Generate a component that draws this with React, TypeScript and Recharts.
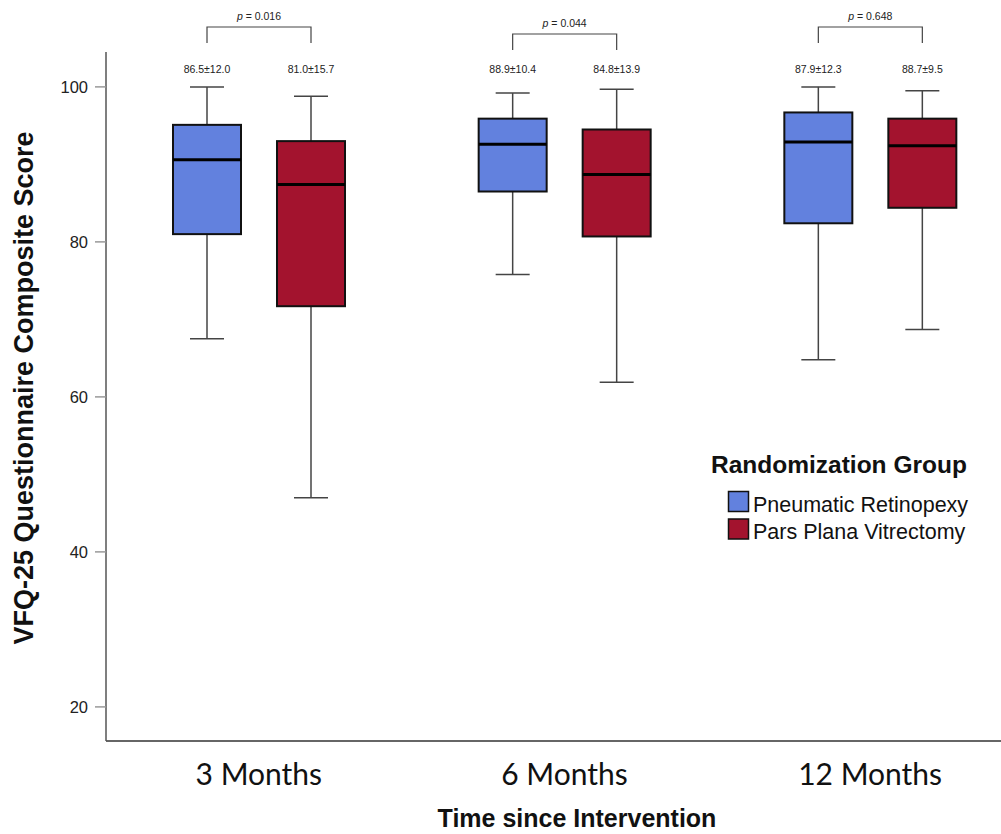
import React from "react";
import { ComposedChart, Bar, XAxis, YAxis } from "recharts";

// data
const categories = ["3 Months", "6 Months", "12 Months"];

const prMin = [67.5, 75.8, 64.8];
const prQ1 = [81.0, 86.5, 82.4];
const prMedian = [90.6, 92.6, 92.9];
const prQ3 = [95.1, 95.9, 96.7];
const prMax = [100.0, 99.2, 100.0];

const ppvMin = [47.0, 61.9, 68.7];
const ppvQ1 = [71.7, 80.7, 84.4];
const ppvMedian = [87.4, 88.7, 92.4];
const ppvQ3 = [93.0, 94.5, 95.9];
const ppvMax = [98.8, 99.7, 99.5];

const prMeanSd = ["86.5±12.0", "88.9±10.4", "87.9±12.3"];
const ppvMeanSd = ["81.0±15.7", "84.8±13.9", "88.7±9.5"];
const pValues = ["0.016", "0.044", "0.648"];

const yTicks = [20, 40, 60, 80, 100];

const data = categories.map((time, i) => ({
  time,
  pr: [prMin[i], prMax[i]],
  ppv: [ppvMin[i], ppvMax[i]],
}));

const stats: any = {
  pr: { min: prMin, q1: prQ1, med: prMedian, q3: prQ3, max: prMax, label: prMeanSd },
  ppv: { min: ppvMin, q1: ppvQ1, med: ppvMedian, q3: ppvQ3, max: ppvMax, label: ppvMeanSd },
};

const colors = { pr: "#6281DE", ppv: "#A3132E" };
const BAR_SIZE = 68;
const BAR_GAP = 36;
const LABEL_Y = 73; // baseline of mean±sd labels
const BRACKET_Y = [27, 34, 27];
const FONT = "'Liberation Sans', Arial, sans-serif";

const makeBoxShape = (group: "pr" | "ppv") => (props: any) => {
  const { x, y, width, height } = props;
  const i = props.payload ? categories.indexOf(props.payload.time) : props.index;
  const s = stats[group];
  const lo = s.min[i];
  const hi = s.max[i];
  const top = Math.min(y, y + height);
  const k = Math.abs(height) / (hi - lo);
  const py = (v: number) => top + (hi - v) * k;
  const cx = x + width / 2;
  const cap = width / 4;
  const whisker = { stroke: "#444", strokeWidth: 1.5 };

  let bracket = null;
  if (group === "ppv") {
    const bx = cx - (width + BAR_GAP);
    const by = BRACKET_Y[i];
    bracket = (
      <g>
        <path
          d={`M${bx},${by + 16} V${by} H${cx} V${by + 16}`}
          fill="none"
          stroke="#444"
          strokeWidth={1.2}
        />
        <text
          x={(bx + cx) / 2}
          y={by - 7}
          textAnchor="middle"
          fontSize={10.5}
          fontFamily={FONT}
          fill="#222"
        >
          <tspan fontStyle="italic">p</tspan> = {pValues[i]}
        </text>
      </g>
    );
  }

  return (
    <g>
      <line x1={cx} x2={cx} y1={py(hi)} y2={py(s.q3[i])} {...whisker} />
      <line x1={cx - cap} x2={cx + cap} y1={py(hi)} y2={py(hi)} {...whisker} />
      <line x1={cx} x2={cx} y1={py(s.q1[i])} y2={py(lo)} {...whisker} />
      <line x1={cx - cap} x2={cx + cap} y1={py(lo)} y2={py(lo)} {...whisker} />
      <rect
        x={x}
        y={py(s.q3[i])}
        width={width}
        height={py(s.q1[i]) - py(s.q3[i])}
        fill={colors[group]}
        stroke="#111"
        strokeWidth={2}
      />
      <line
        x1={x}
        x2={x + width}
        y1={py(s.med[i])}
        y2={py(s.med[i])}
        stroke="#000"
        strokeWidth={3}
      />
      <text
        x={cx}
        y={LABEL_Y}
        textAnchor="middle"
        fontSize={10.5}
        fontFamily={FONT}
        fill="#222"
      >
        {s.label[i]}
      </text>
      {bracket}
    </g>
  );
};

const XTick = (props: any) => {
  const { x, y, payload } = props;
  return (
    <text
      x={x}
      y={y + 44}
      textAnchor="middle"
      fontSize={30}
      fontFamily="Lato, 'Open Sans', sans-serif"
      fill="#111"
    >
      {payload.value}
    </text>
  );
};

export default function App() {
  return (
    <div
      style={{
        position: "absolute",
        left: 0,
        top: 0,
        width: 1001,
        height: 834,
        overflow: "hidden",
        background: "#fff",
      }}
    >
      <ComposedChart
        width={1040}
        height={834}
        data={data}
        margin={{ top: 52, right: 17, bottom: 0, left: 0 }}
        barGap={BAR_GAP}
      >
        <XAxis
          dataKey="time"
          type="category"
          height={93}
          interval={0}
          tickLine={false}
          tickSize={0}
          tickMargin={0}
          axisLine={{ stroke: "#666", strokeWidth: 2 }}
          tick={<XTick />}
        />
        <YAxis
          type="number"
          domain={[15.6, 104.5]}
          ticks={yTicks}
          width={106}
          tickSize={11}
          tickMargin={7}
          tick={{ fontSize: 16.5, fill: "#222", fontFamily: FONT }}
          axisLine={{ stroke: "#555", strokeWidth: 1.5 }}
          tickLine={{ stroke: "#999", strokeWidth: 1.5 }}
        />
        <Bar
          dataKey="pr"
          barSize={BAR_SIZE}
          isAnimationActive={false}
          shape={makeBoxShape("pr")}
        />
        <Bar
          dataKey="ppv"
          barSize={BAR_SIZE}
          isAnimationActive={false}
          shape={makeBoxShape("ppv")}
        />
      </ComposedChart>

      <svg
        width={1001}
        height={834}
        style={{ position: "absolute", left: 0, top: 0, pointerEvents: "none" }}
      >
        <text
          transform="translate(33,388) rotate(-90)"
          textAnchor="middle"
          fontSize={27}
          fontWeight="bold"
          fontFamily={FONT}
          fill="#111"
        >
          VFQ-25 Questionnaire Composite Score
        </text>
        <text
          x={577}
          y={827}
          textAnchor="middle"
          fontSize={25}
          fontWeight="bold"
          fontFamily={FONT}
          fill="#111"
        >
          Time since Intervention
        </text>

        <text
          x={711}
          y={473}
          fontSize={24.5}
          fontWeight="bold"
          fontFamily={FONT}
          fill="#111"
        >
          Randomization Group
        </text>
        <rect x={728.5} y={491.5} width={20} height={20} fill={colors.pr} stroke="#111" strokeWidth={1.5} />
        <text x={753} y={512} fontSize={21.5} fontFamily={FONT} fill="#111">
          Pneumatic Retinopexy
        </text>
        <rect x={728.5} y={519} width={20} height={20} fill={colors.ppv} stroke="#111" strokeWidth={1.5} />
        <text x={753} y={539} fontSize={21.5} fontFamily={FONT} fill="#111">
          Pars Plana Vitrectomy
        </text>
      </svg>
    </div>
  );
}
